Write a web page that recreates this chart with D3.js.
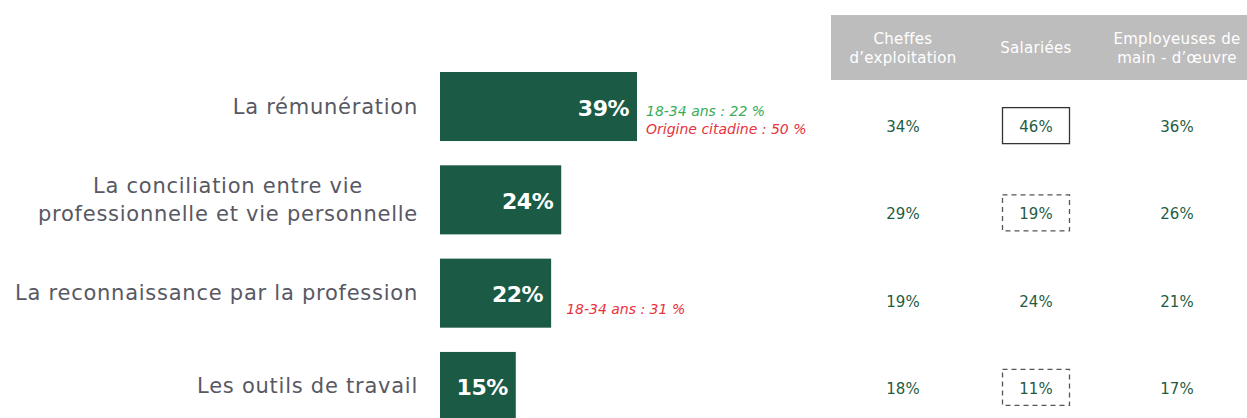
<!DOCTYPE html>
<html><head><meta charset="utf-8">
<script src="https://cdn.jsdelivr.net/npm/d3@7"></script>
<style>body{margin:0;background:#fff}svg{display:block}</style>
</head><body>
<script>
const categories = [["La rémunération"],["La conciliation entre vie","professionnelle et vie personnelle"],["La reconnaissance par la profession"],["Les outils de travail"]];
const values = [39,24,22,15];
const columns = ["Cheffes\nd\u2019exploitation","Salariées","Employeuses de\nmain - d\u2019\u0153uvre"];
const cheffes = [34,29,19,18];
const salariees = [46,19,24,11];
const employeuses = [36,26,21,17];
const boxStyle = ["solid","dashed",null,"dashed"];
const notes = [[{t:"18-34 ans : 22 %",c:"green"},{t:"Origine citadine : 50 %",c:"red"}],[],[{t:"18-34 ans : 31 %",c:"red"}],[]];

const W=1247,H=418;
const svg=d3.select("body").append("svg").attr("width",W).attr("height",H);
const font="'DejaVu Sans',sans-serif";
const x=d3.scaleLinear().domain([0,39]).range([440,637]);
const y=d3.scaleBand().domain(d3.range(4)).range([72,421]).paddingInner(0.26).paddingOuter(0);
const yt=d3.scaleBand().domain(d3.range(4)).range([82.5,431.5]);
const colX=[903,1036,1177];

// header
svg.append("rect").attr("x",831).attr("y",15).attr("width",W-831).attr("height",65).attr("fill","#bdbdbd");
columns.forEach((c,i)=>{
  const lines=c.split("\n");
  const t=svg.append("text").attr("text-anchor","middle").attr("fill","#fff")
    .attr("font-family",font).attr("font-size",15).attr("letter-spacing",0.3);
  lines.forEach((l,j)=>t.append("tspan").attr("x",colX[i]).attr("y",48+(j-(lines.length-1)/2)*19+5).text(l));
});

// bars
svg.selectAll("rect.bar").data(values).join("rect").attr("class","bar")
  .attr("x",x(0)).attr("y",(d,i)=>y(i)).attr("width",d=>x(d)-x(0)).attr("height",y.bandwidth()).attr("fill","#1b5a44");
svg.selectAll("text.val").data(values).join("text").attr("class","val")
  .attr("x",d=>x(d)-8).attr("y",(d,i)=>y(i)+y.bandwidth()/2+9).attr("text-anchor","end")
  .attr("fill","#fff").attr("font-weight","bold").attr("font-family",font).attr("font-size",22).attr("letter-spacing",-0.5).text(d=>d+"%");

// labels (multi-line labels are centred on their widest line, right edge at 418)
categories.forEach((lines,i)=>{
  const cy=y(i)+y.bandwidth()/2;
  const t=svg.append("text").attr("fill","#585863").attr("font-family",font)
    .attr("font-size",21).attr("letter-spacing",0.75);
  const spans=lines.map((l,j)=>t.append("tspan").attr("y",cy+7+(j-(lines.length-1)/2)*28).text(l));
  if(lines.length===1){t.attr("text-anchor","end");spans[0].attr("x",418);}
  else{
    const wmax=d3.max(spans,s=>s.node().getComputedTextLength());
    t.attr("text-anchor","middle");spans.forEach(s=>s.attr("x",418-wmax/2));
  }
});

// notes
notes.forEach((ns,i)=>{
  const cy=y(i)+y.bandwidth()/2;
  ns.forEach((n,j)=>{
    svg.append("text").attr("x",ns.length>1?x(values[i])+9:x(values[i])+15)
      .attr("y",ns.length>1?cy+9+j*18:cy+21).attr("font-family",font).attr("font-style","italic")
      .attr("font-size",14).attr("fill",n.c==="green"?"#3aad58":"#e8323c").text(n.t);
  });
});

// table
[cheffes,salariees,employeuses].forEach((arr,ci)=>{
  const cx=colX[ci];
  arr.forEach((v,i)=>{
    const cy=yt(i)+yt.bandwidth()/2;
    if(ci===1&&boxStyle[i]){
      svg.append("rect").attr("x",cx-33.5).attr("y",cy-18.5).attr("width",67).attr("height",36)
        .attr("fill","none").attr("stroke",boxStyle[i]==="solid"?"#333":"#555")
        .attr("stroke-width",1.3).attr("stroke-dasharray",boxStyle[i]==="dashed"?"5,4":null);
    }
    svg.append("text").attr("x",cx).attr("y",cy+6).attr("text-anchor","middle").attr("fill","#1f5c45")
      .attr("font-family",font).attr("font-size",15).text(v+"%");
  });
});
</script>
</body></html>
